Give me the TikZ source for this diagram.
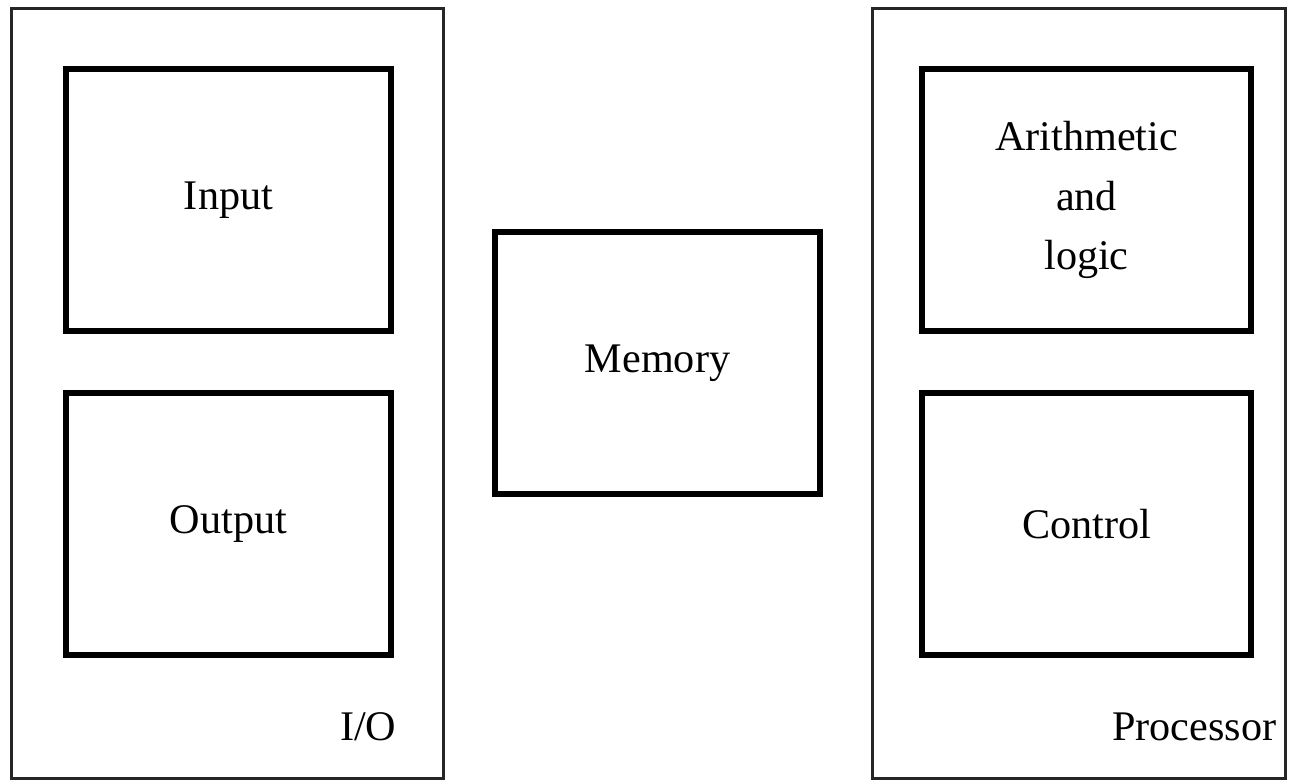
\documentclass[tikz,border=0pt]{standalone}
\usepackage{fontspec}
\setmainfont{Liberation Serif}
\tikzset{
  unit/.style={draw, line width=1.7pt, minimum width=3.25cm, minimum height=2.62cm, align=center, font=\fontsize{12}{17}\selectfont},
  group/.style={draw=black!85, line width=0.9pt, minimum width=4.31cm, minimum height=7.69cm},
  grouplabel/.style={anchor=base east, font=\fontsize{12}{14}\selectfont, inner sep=0pt}
}
\begin{document}
\begin{tikzpicture}[x=0.01cm, y=0.01cm]
\useasboundingbox (0,0) rectangle (1289,782);
\node[group] (io) at (227.5,388.5) {};
\node[group, minimum width=4.12cm] (proc) at (1079,388.5) {};
\node[unit] (input) at (228.5,582) {Input};
\node[unit] (output) at (228.5,258) {Output};
\node[unit] (memory) at (657.5,419) {Memory};
\node[unit, minimum width=3.29cm] (alu) at (1086.5,582) {Arithmetic\\and\\logic};
\node[unit, minimum width=3.29cm] (control) at (1086.5,258) {Control};
\node[grouplabel] (iolabel) at (397,42) {I/O};
\node[grouplabel] (proclabel) at (1277,42) {Processor};
\end{tikzpicture}
\end{document}
